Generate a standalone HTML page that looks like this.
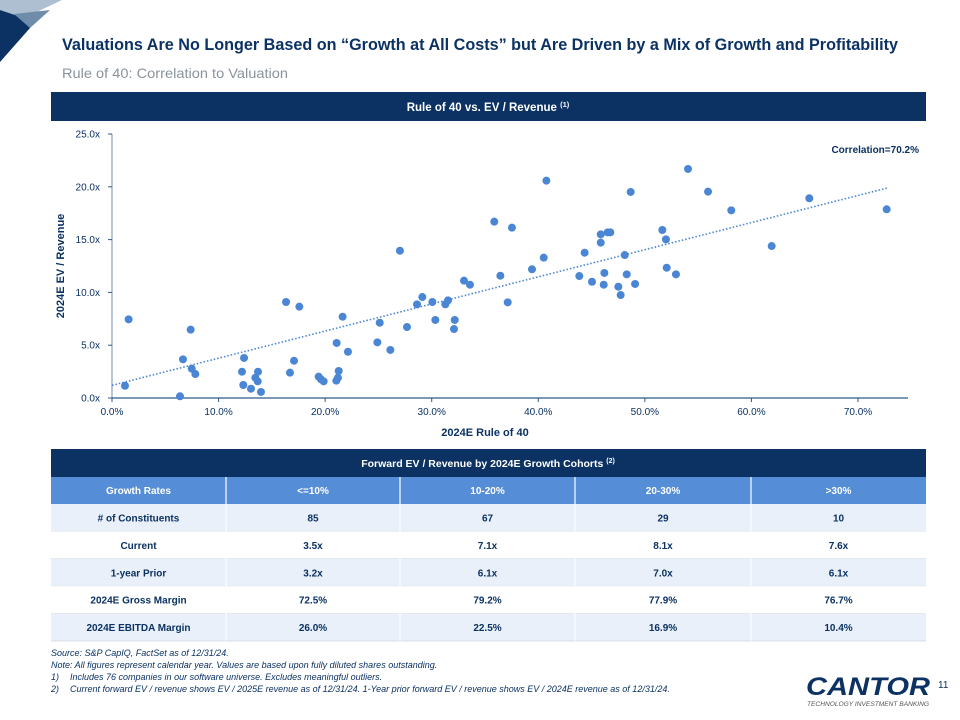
<!DOCTYPE html>
<html><head><meta charset="utf-8">
<style>
body{margin:0;background:#fff;width:960px;height:720px;overflow:hidden;font-family:"Liberation Sans",sans-serif;}
svg{display:block}
</style></head>
<body>
<svg id="page" width="960" height="720" viewBox="0 0 960 720" xmlns="http://www.w3.org/2000/svg">
  <g>
    <polygon points="0,0 62,0 24,18 0,10" fill="#aebfd2"/>
    <polygon points="0,10 24,18 30,28 0,62" fill="#0b3263"/>
    <polygon points="14,14 50,10 30,28" fill="#6f8cab"/>
  </g>
  <text x="62" y="50" font-size="17" font-weight="bold" fill="#0b3263" textLength="836" lengthAdjust="spacingAndGlyphs">Valuations Are No Longer Based on “Growth at All Costs” but Are Driven by a Mix of Growth and Profitability</text>
  <text x="62" y="78" font-size="14" fill="#8a939c" textLength="226" lengthAdjust="spacingAndGlyphs">Rule of 40: Correlation to Valuation</text>

  <rect x="51" y="92" width="875" height="29" fill="#0b3263"/>
  <text x="488" y="111" font-size="11.5" font-weight="bold" fill="#fff" text-anchor="middle">Rule of 40 vs. EV / Revenue <tspan font-size="7.5" dy="-4">(1)</tspan></text>

  <g id="chart"></g>

  <g id="table"></g>

  <g font-size="9" font-style="italic" fill="#0b3263">
    <text x="51" y="656">Source: S&amp;P CapIQ, FactSet as of 12/31/24.</text>
    <text x="51" y="668">Note: All figures represent calendar year. Values are based upon fully diluted shares outstanding.</text>
    <text x="51" y="680">1)<tspan x="70">Includes 76 companies in our software universe. Excludes meaningful outliers.</tspan></text>
    <text x="51" y="692">2)<tspan x="70">Current forward EV / revenue shows EV / 2025E revenue as of 12/31/24. 1-Year prior forward EV / revenue shows EV / 2024E revenue as of 12/31/24.</tspan></text>
  </g>
  <g>
    <text x="806" y="695" font-size="25" font-weight="bold" font-style="italic" fill="#0b3263" textLength="124" lengthAdjust="spacingAndGlyphs">CANTOR</text>
    <text x="807" y="706" font-size="6.5" font-style="italic" fill="#555" textLength="122" lengthAdjust="spacingAndGlyphs">TECHNOLOGY INVESTMENT BANKING</text>
  </g>
  <text x="938" y="688" font-size="10" fill="#0b3263">11</text>
</svg>
<script>
const xTicks=[0,10,20,30,40,50,60,70];
const yTicks=[0,5,10,15,20,25];
const xValues=[1.22,1.56,6.38,6.66,7.38,7.48,7.82,12.2,12.39,12.32,13.04,13.45,13.7,13.67,13.98,16.33,16.7,17.08,17.58,19.39,19.61,19.86,21.05,21.27,21.2,21.08,21.64,22.14,24.9,25.12,26.12,27.02,27.68,28.62,29.12,30.06,30.34,31.28,31.53,32.16,32.09,33.03,33.59,35.87,37.53,36.44,37.13,39.41,40.51,40.76,44.35,43.85,45.04,45.86,45.86,46.51,46.76,46.2,46.14,47.51,47.73,48.11,48.3,49.08,48.67,51.64,51.98,52.05,52.92,54.05,55.93,58.11,61.9,65.43,72.69];
const yValues=[1.16,7.45,0.16,3.66,6.47,2.78,2.27,2.49,3.79,1.23,0.88,1.92,2.49,1.58,0.57,9.09,2.4,3.53,8.65,2.02,1.77,1.58,1.64,2.56,1.92,5.21,7.7,4.38,5.27,7.13,4.55,13.95,6.72,8.87,9.56,9.09,7.39,8.87,9.25,7.39,6.53,11.11,10.73,16.7,16.13,11.58,9.06,12.19,13.29,20.58,13.76,11.55,11.01,15.5,14.71,15.69,15.69,11.84,10.73,10.54,9.75,13.54,11.71,10.8,19.51,15.91,15.02,12.34,11.71,21.69,19.54,17.77,14.39,18.91,17.87];
const trendStart=[0,1.2];
const trendEnd=[72.8,19.9];
const correlationLabel="Correlation=70.2%";

const tableHeader=["Growth Rates","<=10%","10-20%","20-30%",">30%"];
const tableRowLabels=["# of Constituents","Current","1-year Prior","2024E Gross Margin","2024E EBITDA Margin"];
const tableValues=[["85","67","29","10"],["3.5x","7.1x","8.1x","7.6x"],["3.2x","6.1x","7.0x","6.1x"],["72.5%","79.2%","77.9%","76.7%"],["26.0%","22.5%","16.9%","10.4%"]];

const NS="http://www.w3.org/2000/svg";
function mk(tag,attrs,parent,text){const e=document.createElementNS(NS,tag);for(const k in attrs)e.setAttribute(k,attrs[k]);if(text!==undefined)e.textContent=text;parent.appendChild(e);return e;}
const X0=112,X1=858,XMAX=70,Y0=398,Y1=134,YMAX=25;
const sx=v=>X0+(X1-X0)*v/XMAX;
const sy=v=>Y0-(Y0-Y1)*v/YMAX;
const ch=document.getElementById('chart');

const yAxis=mk('line',{x1:X0,y1:Y1,x2:X0,y2:Y0,stroke:'#8a9fb8','stroke-width':1.2},ch);


const xAxis=mk('line',{x1:X0,y1:Y0,x2:908,y2:Y0,stroke:'#2d5a8c','stroke-width':1.2},ch);


yTicks.forEach(t=>{
  mk('line',{x1:X0-4,y1:sy(t),x2:X0,y2:sy(t),stroke:'#2d5a8c'},ch);
  const l=mk('text',{x:X0-12,y:sy(t)+3.5,'font-size':10,fill:'#0b3263','text-anchor':'end'},ch,t.toFixed(1)+'x');
  
  
});
xTicks.forEach(t=>{
  mk('line',{x1:sx(t),y1:Y0,x2:sx(t),y2:Y0+4,stroke:'#2d5a8c'},ch);
  const l=mk('text',{x:sx(t),y:Y0+17,'font-size':10,fill:'#0b3263','text-anchor':'middle'},ch,t.toFixed(1)+'%');
  
  
});
const xt=mk('text',{x:485,y:436,'font-size':11,'font-weight':'bold',fill:'#0b3263','text-anchor':'middle'},ch,'2024E Rule of 40');


const yt=mk('text',{x:0,y:0,'font-size':11,'font-weight':'bold',fill:'#0b3263','text-anchor':'middle',transform:'translate(64,266) rotate(-90)'},ch,'2024E EV / Revenue');


const tr=mk('line',{x1:sx(trendStart[0]),y1:sy(trendStart[1]),x2:sx(trendEnd[0]),y2:sy(trendEnd[1]),stroke:'#4a86d4','stroke-width':1.6,'stroke-dasharray':'1.5 2'},ch);


xValues.forEach((v,i)=>{
  const c=mk('circle',{cx:sx(v),cy:sy(yValues[i]),r:4,fill:'#4a86d4'},ch);
  
  
});
const cl=mk('text',{x:919,y:153,'font-size':10,'font-weight':'bold',fill:'#0b3263','text-anchor':'end'},ch,correlationLabel);



const tb=document.getElementById('table');
const bar=mk('rect',{x:51,y:449,width:875,height:28,fill:'#0b3263'},tb);


const tt=mk('text',{x:488,y:467,'font-size':10.5,'font-weight':'bold',fill:'#fff','text-anchor':'middle'},tb,'Forward EV / Revenue by 2024E Growth Cohorts ');
const sup=mk('tspan',{'font-size':7,dy:-4},tt,'(2)');


const colX=[51,226,400,575,751,926];
const hdr=mk('rect',{x:51,y:477,width:875,height:27,fill:'#558dd7'},tb);


tableHeader.forEach((h,i)=>{
  if(i>0)mk('line',{x1:colX[i],y1:477,x2:colX[i],y2:504,stroke:'#fff','stroke-width':1.2},tb);
  const t=mk('text',{x:(colX[i]+colX[i+1])/2,y:494,'font-size':10,'font-weight':'bold',fill:'#fff','text-anchor':'middle'},tb,h);
  
  
});
const RH=27.4;
tableRowLabels.forEach((lab,r)=>{
  const y=504+r*RH;
  const rr=mk('rect',{x:51,y:y,width:875,height:RH,fill:r%2===0?'#e9f0f9':'#fff'},tb);
  
  
  mk('line',{x1:51,y1:y+RH,x2:926,y2:y+RH,stroke:'#d8dde3','stroke-width':1},tb);
  for(let i=1;i<5;i++)mk('line',{x1:colX[i],y1:y,x2:colX[i],y2:y+RH,stroke:'#fff','stroke-width':1},tb);
  const lt=mk('text',{x:(colX[0]+colX[1])/2,y:y+17.5,'font-size':10,'font-weight':'bold',fill:'#0b3263','text-anchor':'middle'},tb,lab);
  
  
  tableValues[r].forEach((v,c)=>{
    const t=mk('text',{x:(colX[c+1]+colX[c+2])/2,y:y+17.5,'font-size':10,'font-weight':'bold',fill:'#0b3263','text-anchor':'middle'},tb,v);
    
    
  });
});
</script>
</body></html>
